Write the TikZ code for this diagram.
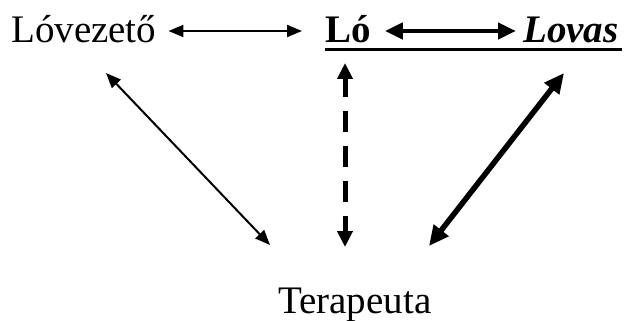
\documentclass[tikz,border=0pt]{standalone}
\usepackage{fontspec}
\setmainfont{Liberation Serif}
\usetikzlibrary{arrows.meta}

\begin{document}
\begin{tikzpicture}[x=1pt, y=-1pt, every node/.style={inner sep=0pt, anchor=base west, font=\fontsize{39}{39}\selectfont},
	thin link/.style={line width=2pt, {Triangle[length=15pt,width=12pt]}-{Triangle[length=15pt,width=12pt]}},
	thick link/.style={line width=4.5pt, {Triangle[length=18pt,width=16pt]}-{Triangle[length=18pt,width=16pt]}}]
		\useasboundingbox (0,0) rectangle (624,321);

		%––––– row 1 –––––
		\node (lv) at (11,43) {Lóvezető};
		\node (lo) at (325,43) {\textbf{Ló}};
		\node (lov) at (523,43) {\textbf{\textit{Lovas}}};

		\draw[thin link] ([xshift=12pt,yshift=12pt]lv.base east) -- ([xshift=-23pt,yshift=12pt]lo.base west);
		\draw[thick link] ([xshift=14pt,yshift=12pt]lo.base east) -- ([xshift=-7pt,yshift=12pt]lov.base west);
		\draw[line width=3pt] ([yshift=-7pt]lo.base west) -- ([xshift=3pt,yshift=-7pt]lov.base east);

		%––––– row 2 –––––
		\node (ter) at (278,313) {Terapeuta};

		\draw[thin link]
			([xshift=95pt,yshift=-30pt]lv.base west) -- ([xshift=-8pt,yshift=68pt]ter.base west);
		\draw[line width=5pt, dash pattern=on 21pt off 14pt, dash phase=2pt, {Triangle[length=16pt,width=15pt]}-{Triangle[length=16pt,width=15pt]}]
			([xshift=20pt,yshift=-20pt]lo.base west) -- ([xshift=67pt,yshift=66pt]ter.base west);
		\draw[line width=5.5pt, {Triangle[length=20pt,width=18pt]}-{Triangle[length=20pt,width=18pt]}]
			([xshift=41pt,yshift=-30pt]lov.base west) -- ([xshift=151pt,yshift=67pt]ter.base west);
	\end{tikzpicture}
\end{document}
